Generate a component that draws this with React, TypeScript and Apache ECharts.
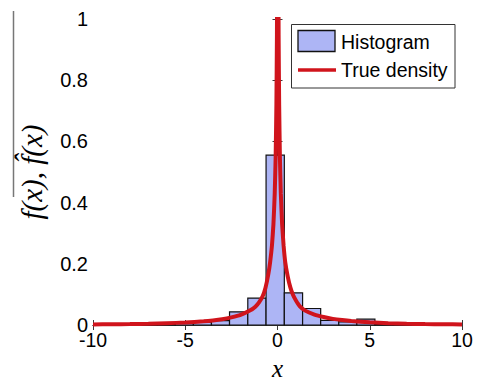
import React, { useEffect, useRef } from "react";
import * as echarts from "echarts";

// Histogram bin edges and heights
const binEdges = [-7.5, -6.52, -5.54, -4.56, -3.58, -2.6, -1.61, -0.62, 0.37, 1.36, 2.34, 3.32, 4.3, 5.28, 6.27, 7.25];
const binHeights = [0.002, 0.003, 0.005, 0.009, 0.014, 0.043, 0.088, 0.555, 0.105, 0.054, 0.015, 0.01, 0.019, 0.003, 0.002];

// True density curve samples
const curveX = [-10, -9, -8, -7, -6, -5, -4, -3.5, -3, -2.5, -2, -1.5, -1.2, -1.0, -0.8, -0.65, -0.5, -0.4, -0.3, -0.22, -0.15, -0.1, -0.06, -0.03, -0.01, 0.0, 0.02, 0.04, 0.06, 0.09, 0.13, 0.18, 0.25, 0.33, 0.42, 0.55, 0.7, 0.85, 1.0, 1.2, 1.5, 2.0, 2.5, 3.0, 3.5, 4, 5, 6, 7, 8, 9, 10];
const curveY = [0.002, 0.0025, 0.003, 0.004, 0.006, 0.008, 0.012, 0.015, 0.019, 0.025, 0.033, 0.047, 0.06, 0.074, 0.095, 0.122, 0.165, 0.205, 0.26, 0.33, 0.43, 0.55, 0.72, 0.95, 1.3, 2.0, 2.0, 1.3, 0.95, 0.72, 0.55, 0.43, 0.33, 0.26, 0.205, 0.16, 0.122, 0.097, 0.08, 0.062, 0.047, 0.034, 0.026, 0.02, 0.016, 0.013, 0.009, 0.006, 0.004, 0.003, 0.0025, 0.002];

const legendNames = ["Histogram", "True density"];

const xTicks = { min: -10, max: 10, interval: 5 };
const yTicks = { min: 0, max: 1, interval: 0.2 };

const AXIS_COLOR = "#3a3a3a";
const BAR_FILL = "#adb5f5";
const RED = "#d0141c";
const FONT = "Liberation Sans";

export default function App() {
  const ref = useRef<HTMLDivElement>(null);
  useEffect(() => {
    if (!ref.current) return;
    const chart = echarts.init(ref.current, undefined, { renderer: "svg" });
    const histData = binHeights.map((h, i) => [binEdges[i], binEdges[i + 1], h]);
    const lineData = curveX.map((x, i) => [x, curveY[i]]);
    const axisLine = { show: true, lineStyle: { color: AXIS_COLOR, width: 1 } };
    const axisTick = { show: true, inside: true, length: 5, lineStyle: { color: AXIS_COLOR } };
    chart.setOption({
      animation: false,
      backgroundColor: "#fff",
      grid: { left: 93, top: 19, right: 15, bottom: 54, containLabel: false },
      xAxis: [
        {
          type: "value",
          ...xTicks,
          position: "bottom",
          axisLine,
          axisTick,
          splitLine: { show: false },
          axisLabel: { color: "#000", fontFamily: FONT, fontSize: 19.5, margin: 5 },
          name: "x",
          nameLocation: "middle",
          nameGap: 31,
          nameTextStyle: { fontFamily: "Liberation Serif", fontStyle: "italic", fontSize: 25, color: "#000" },
        },
        {
          type: "value",
          ...xTicks,
          position: "top",
          axisLine,
          axisTick,
          splitLine: { show: false },
          axisLabel: { show: false },
        },
      ],
      yAxis: [
        {
          type: "value",
          ...yTicks,
          position: "left",
          axisLine,
          axisTick,
          splitLine: { show: false },
          axisLabel: { color: "#000", fontFamily: FONT, fontSize: 20, margin: 5 },
          name: "f(x), f\u0302(x)",
          nameLocation: "middle",
          nameRotate: 90,
          nameGap: 47,
          nameTextStyle: { fontFamily: "Liberation Serif", fontStyle: "italic", fontSize: 29, color: "#000" },
        },
        {
          type: "value",
          ...yTicks,
          position: "right",
          axisLine,
          axisTick,
          splitLine: { show: false },
          axisLabel: { show: false },
        },
      ],
      graphic: [
        {
          type: "line",
          shape: { x1: 13.5, y1: 11, x2: 13.5, y2: 197 },
          style: { stroke: "#777", lineWidth: 1.5 },
        },
        {
          type: "group",
          z: 100,
          children: [
            {
              type: "rect",
              shape: { x: 291.5, y: 24.5, width: 163.5, height: 63.5 },
              style: { fill: "#fff", stroke: "#333", lineWidth: 1 },
            },
            {
              type: "rect",
              shape: { x: 298, y: 30.5, width: 37, height: 21 },
              style: { fill: BAR_FILL, stroke: "#111", lineWidth: 1.3 },
            },
            {
              type: "text",
              x: 341,
              y: 41.5,
              style: { text: legendNames[0], fontFamily: FONT, fontSize: 19.5, fill: "#000", verticalAlign: "middle", align: "left" },
            },
            {
              type: "line",
              shape: { x1: 298, y1: 70, x2: 336, y2: 70 },
              style: { stroke: RED, lineWidth: 3.5 },
            },
            {
              type: "text",
              x: 341,
              y: 70,
              style: { text: legendNames[1], fontFamily: FONT, fontSize: 19.5, fill: "#000", verticalAlign: "middle", align: "left" },
            },
          ],
        },
      ],
      series: [
        {
          name: legendNames[0],
          type: "custom",
          xAxisIndex: 0,
          yAxisIndex: 0,
          data: histData,
          encode: { x: [0, 1], y: 2 },
          itemStyle: { color: BAR_FILL, borderColor: "#111", borderWidth: 1.2 },
          renderItem: (params: any, api: any) => {
            const p0 = api.coord([api.value(0), api.value(2)]);
            const p1 = api.coord([api.value(1), 0]);
            return {
              type: "rect",
              shape: { x: p0[0], y: p0[1], width: p1[0] - p0[0], height: p1[1] - p0[1] },
              style: { fill: BAR_FILL, stroke: "#111", lineWidth: 1.2 },
            };
          },
          z: 2,
        },
        {
          name: legendNames[1],
          type: "line",
          xAxisIndex: 0,
          yAxisIndex: 0,
          data: lineData,
          symbol: "none",
          smooth: 0.15,
          clip: true,
          lineStyle: { color: RED, width: 4 },
          itemStyle: { color: RED },
          z: 3,
        },
      ],
    });
    return () => chart.dispose();
  }, []);
  return <div ref={ref} style={{ width: 477, height: 386, position: "absolute", left: 0, top: 0 }} />;
}
